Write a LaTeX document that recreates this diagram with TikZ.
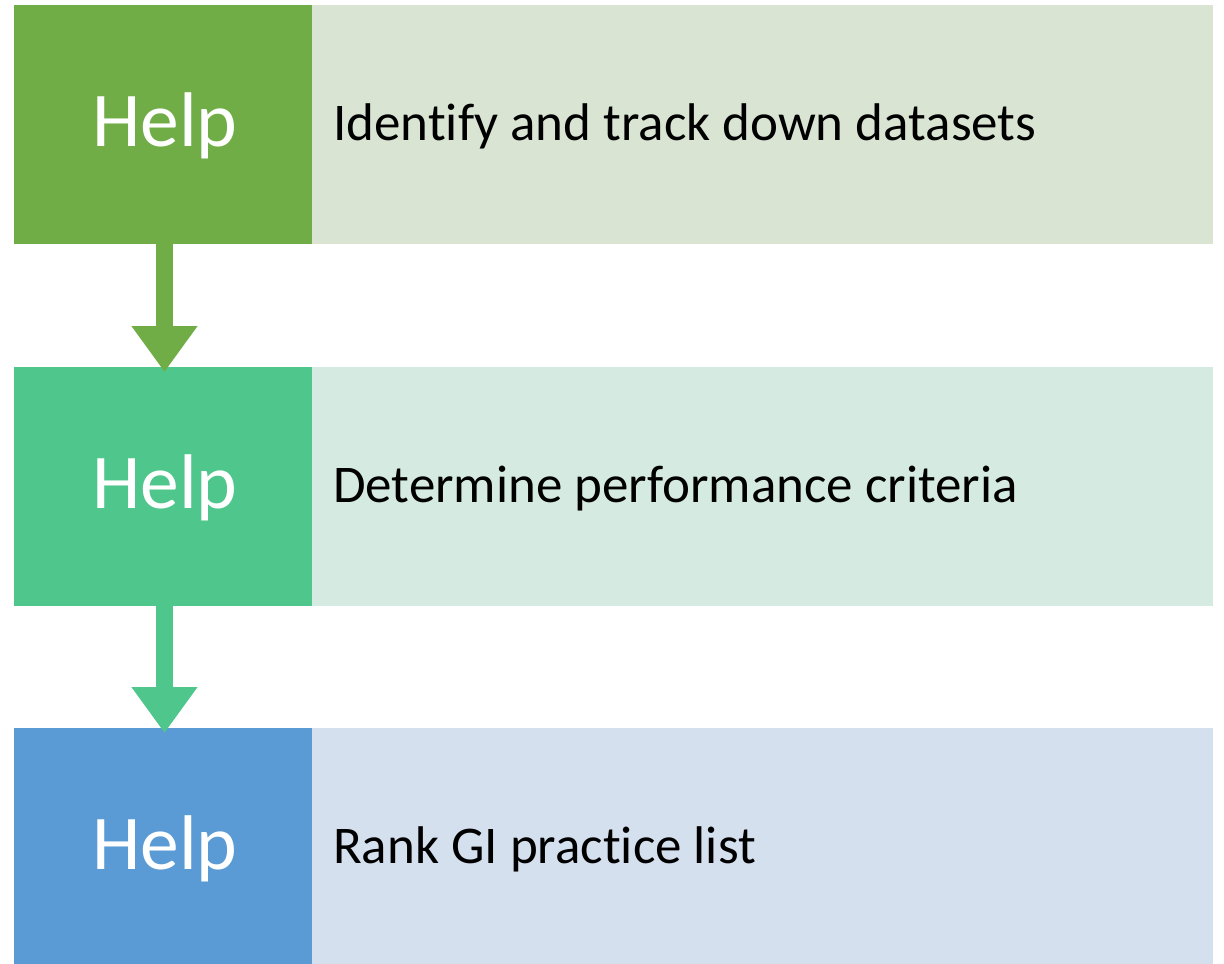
\documentclass[tikz,border=0pt]{standalone}
\usepackage{fontspec}
\setmainfont[Ligatures={NoCommon}]{Carlito}
\usetikzlibrary{arrows.meta}
\definecolor{gA}{HTML}{70AD47}
\definecolor{gAl}{HTML}{D9E4D3}
\definecolor{gB}{HTML}{4FC68B}
\definecolor{gBl}{HTML}{D5EBE2}
\definecolor{gC}{HTML}{5B9BD5}
\definecolor{gCl}{HTML}{D5E0EE}
\tikzset{
  headbox/.style={minimum width=298pt, minimum height=239pt, inner sep=0pt, outer sep=0pt, anchor=north west},
  bodybox/.style={minimum width=901pt, minimum height=239pt, inner sep=0pt, outer sep=0pt, anchor=north west},
  headtext/.style={text=white, font=\fontsize{77.5}{77.5}\selectfont, anchor=base, inner sep=0pt},
  bodytext/.style={text=black, font=\fontsize{53}{53}\selectfont, anchor=base west, inner sep=0pt},
  flow/.style={line width=17pt, -{Triangle[length=46pt,width=63pt]}, shorten >=-5pt}
}
\begin{document}
\begin{tikzpicture}[x=1pt,y=-1pt]
\useasboundingbox (0,0) rectangle (1224,964);
% row 1
\node[headbox, fill=gA] (h1) at (14,5) {};
\node[bodybox, fill=gAl] (b1) at (312,5) {};
\node[headtext] (t1) at (165,146) {Help};
\node[bodytext] (s1) at (333,140) {Identify and track down datasets};
% row 2
\node[headbox, fill=gB] (h2) at (14,367) {};
\node[bodybox, fill=gBl] (b2) at (312,367) {};
\node[headtext] (t2) at (165,508) {Help};
\node[bodytext] (s2) at (333,502) {Determine performance criteria};
% row 3
\node[headbox, fill=gC, minimum height=236pt] (h3) at (14,728) {};
\node[bodybox, fill=gCl, minimum height=236pt] (b3) at (312,728) {};
\node[headtext] (t3) at (165,869) {Help};
\node[bodytext] (s3) at (333,863) {Rank GI practice list};
% arrows
\draw[flow, draw=gA, fill=gA] ([xshift=1.5pt]h1.south) -- ([xshift=1.5pt]h2.north);
\draw[flow, draw=gB, fill=gB] ([xshift=1.5pt]h2.south) -- ([xshift=1.5pt]h3.north);
\end{tikzpicture}
\end{document}
